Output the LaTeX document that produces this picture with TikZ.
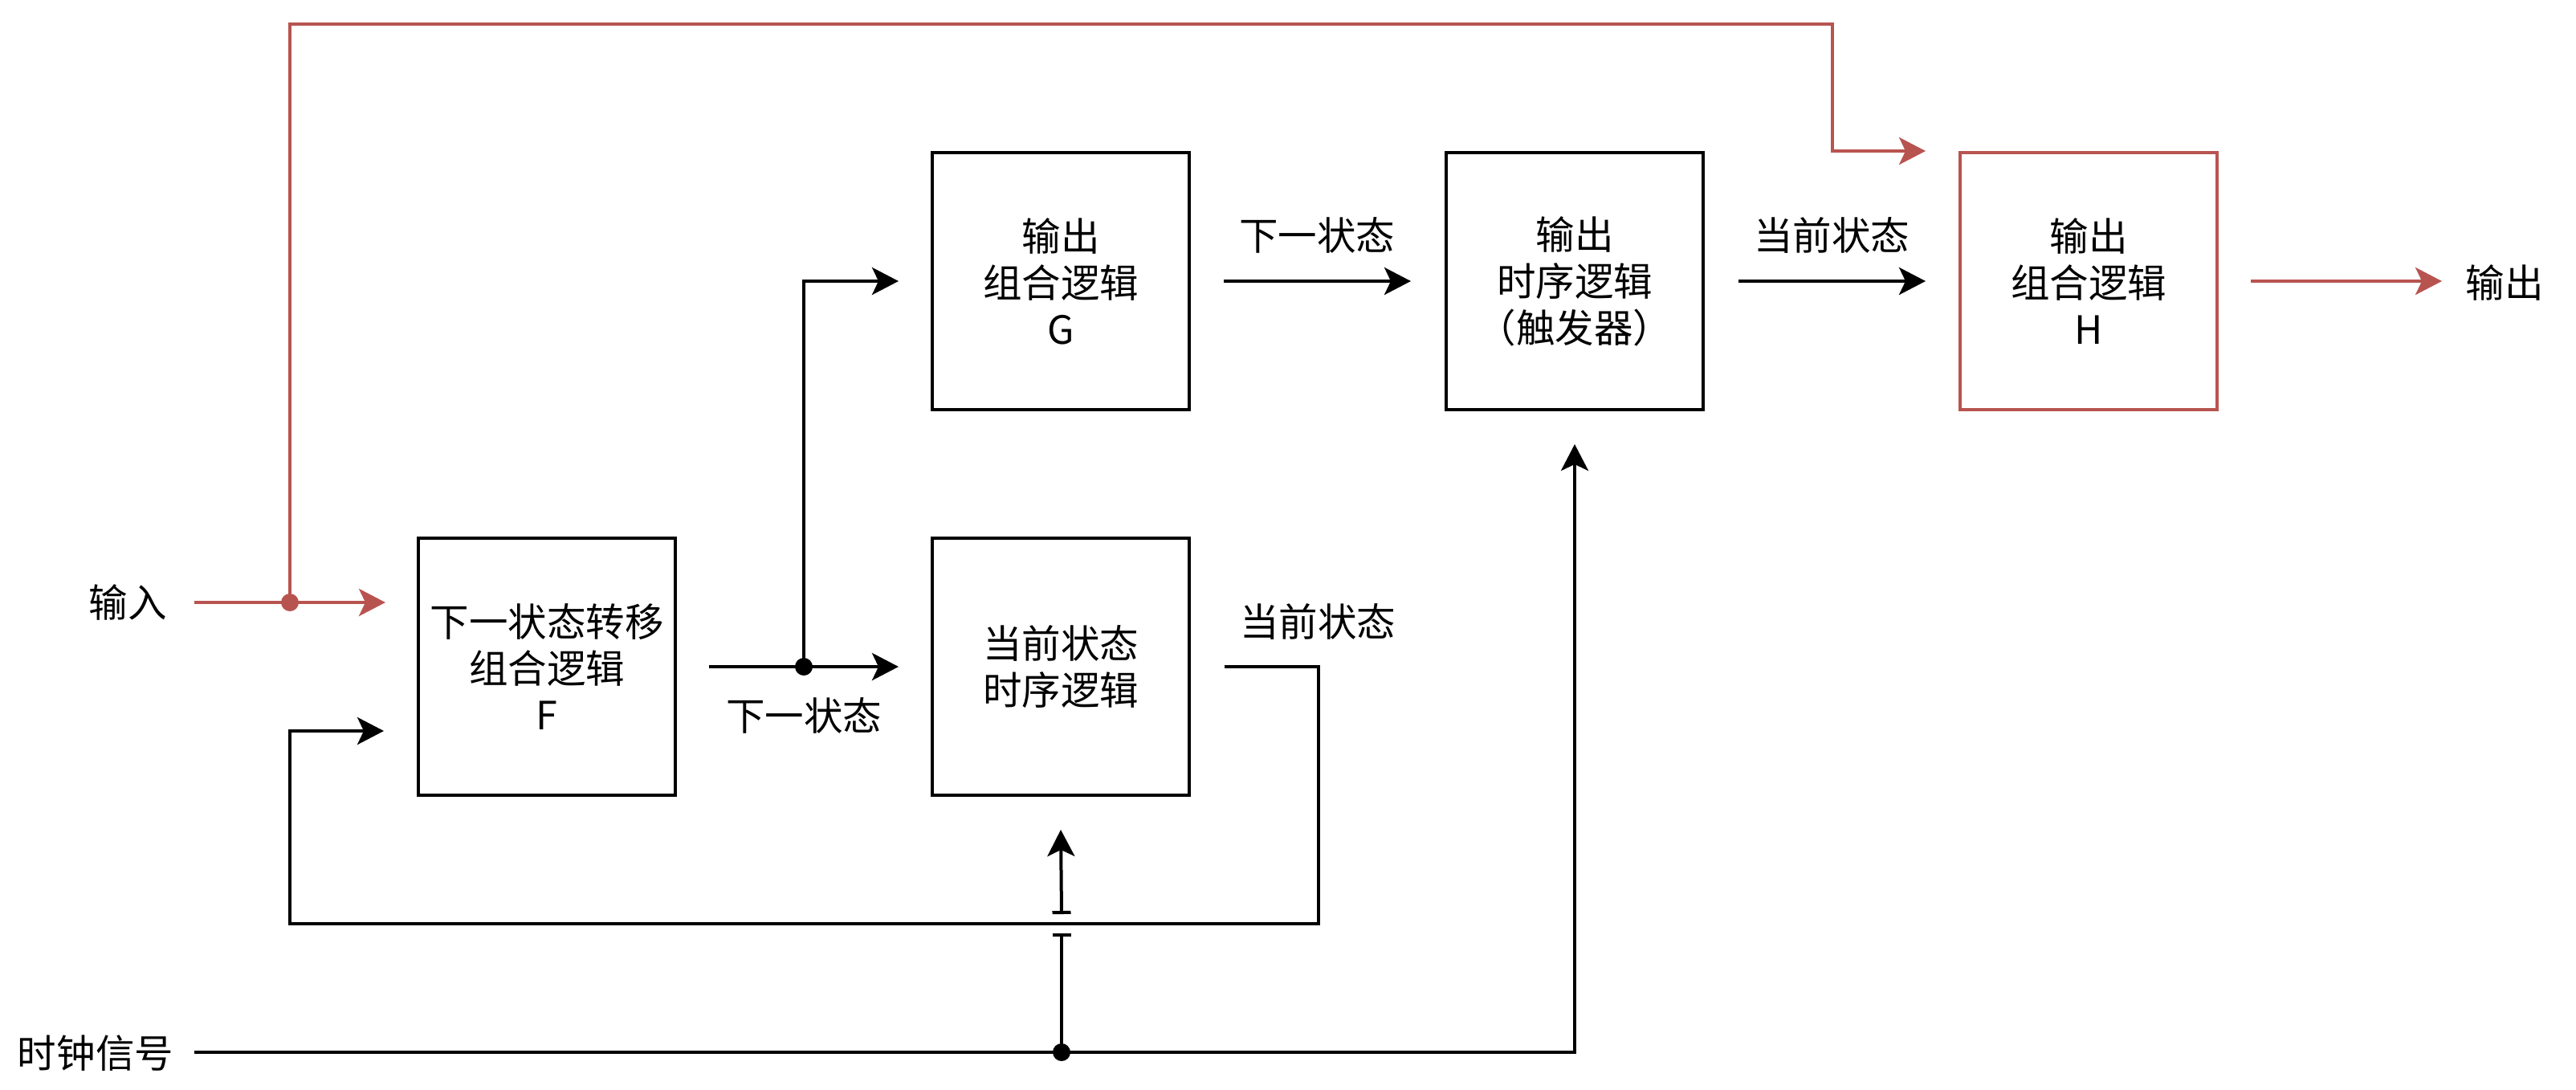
\documentclass[tikz,border=0pt]{standalone}
\usepackage{fontspec}
\setmainfont{Noto Sans CJK SC}
\usetikzlibrary{arrows.meta}
\definecolor{redline}{HTML}{B85450}
\begin{document}
\begin{tikzpicture}[
  >={Stealth[length=0.33cm,width=0.34cm,inset=0.08cm]},
  box/.style={draw, line width=0.04cm, minimum width=3.2cm, minimum height=3.2cm,
    align=center, inner sep=0pt, font=\fontsize{13.8}{16.5}\selectfont},
  lbl/.style={inner sep=0pt, font=\fontsize{13.8}{16.5}\selectfont},
  conn/.style={line width=0.04cm},
  jdot/.style={circle, fill, inner sep=0pt, minimum size=0.22cm},
]
\useasboundingbox (0,0) rectangle (32.08,-13.56);

% blocks
\node[box] (F) at (6.81,-8.30) {下一状态转移\\组合逻辑\\F};
\node[box] (S) at (13.21,-8.30) {当前状态\\时序逻辑};
\node[box] (G) at (13.21,-3.50) {输出\\组合逻辑\\G};
\node[box] (R) at (19.61,-3.50) {输出\\时序逻辑\\（触发器）};
\node[box, draw=redline] (H) at (26.01,-3.50) {输出\\组合逻辑\\H};

% labels
\node[lbl] (in) at (1.59,-7.50) {输入};
\node[lbl] (clk) at (1.19,-13.11) {时钟信号};
\node[lbl] (out) at (31.19,-3.52) {输出};
\node[lbl] (lns1) at (10.01,-8.91) {下一状态};
\node[lbl] (lcs1) at (16.41,-7.74) {当前状态};
\node[lbl] (lns2) at (16.40,-2.93) {下一状态};
\node[lbl] (lcs2) at (22.81,-2.93) {当前状态};

% free ends
\coordinate (inA) at (2.42,-7.50);
\coordinate (inB) at (4.80,-7.50);
\coordinate (topL) at (3.61,-0.30);
\coordinate (topR) at (22.82,-0.30);
\coordinate (fbR) at (16.42,-8.30);
\coordinate (fbB) at (3.61,-11.50);
\coordinate (outB) at (30.41,-3.50);
\coordinate (clkA) at (2.42,-13.10);
\coordinate (barLo) at (13.22,-11.62);
\coordinate (barHi) at (13.22,-11.38);

% junction dots
\node[jdot, fill=redline] (jin) at (3.61,-7.50) {};
\node[jdot] (jns) at (10.01,-8.30) {};
\node[jdot] (jclk) at (13.22,-13.10) {};

% red paths
\draw[conn, redline, ->] (inA) -- (inB);
\draw[conn, redline, ->] (jin.center) -- (topL) -- (topR) |- ([xshift=-0.41cm]H.north west);
\draw[conn, redline, ->] ([xshift=0.40cm]H.east) -- (outB);

% black paths
\draw[conn, ->] ([xshift=0.40cm]F.east) -- ([xshift=-0.40cm]S.west);
\draw[conn, ->] (jns.center) |- ([xshift=-0.40cm]G.west);
\draw[conn, ->] ([xshift=0.41cm]G.east) -- ([xshift=-0.42cm]R.west);
\draw[conn, ->] ([xshift=0.42cm]R.east) -- ([xshift=-0.41cm]H.west);
\draw[conn, ->] ([xshift=0.42cm]S.east) -- (fbR) |- (fbB) |- ([xshift=-0.41cm,yshift=-0.80cm]F.west);
\draw[conn, ->] (clkA) -| ([yshift=-0.41cm]R.south);
\draw[conn, -{Bar[width=0.23cm]}] (jclk.center) -- (barLo);
\draw[conn, {Bar[width=0.23cm]}->] (barHi) -- ([yshift=-0.41cm]S.south);
\end{tikzpicture}
\end{document}
